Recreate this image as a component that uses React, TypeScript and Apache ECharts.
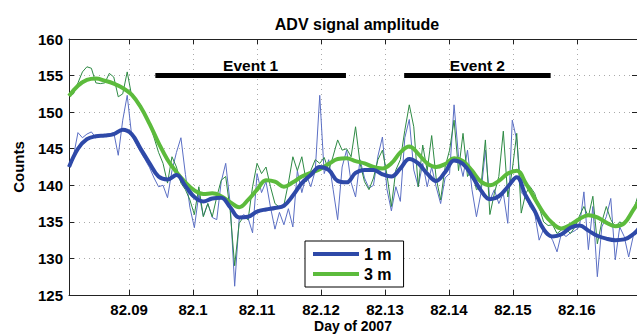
import React, { useEffect, useRef } from "react";
import * as echarts from "echarts";

// x sampling (day of 2007)
const rawStart = 82.0806;
const rawStep = 0.0007;
const smoothStart = 82.0806;
const smoothStep = 0.0014;

const xTicks = [82.09, 82.1, 82.11, 82.12, 82.13, 82.14, 82.15, 82.16];
const xLabels = ["82.09", "82.1", "82.11", "82.12", "82.13", "82.14", "82.15", "82.16"];

// raw ADV amplitude, 1 m
const raw1m = [
  142.5, 144.0, 147.2, 146.5, 147.0, 147.3, 146.5, 146.8, 146.9, 147.0,
  147.2, 144.1, 148.9, 152.3, 146.8, 145.6, 144.5, 143.5, 142.4, 141.0,
  139.8, 140.0, 138.3, 142.0, 144.5, 146.5, 141.5, 137.0, 134.2, 138.8,
  135.8, 137.5, 135.6, 135.3, 140.5, 143.0, 137.5, 126.2, 135.3, 136.0,
  135.5, 133.5, 141.6, 139.0, 140.5, 137.0, 134.0, 136.3, 134.6, 136.8,
  134.3, 142.0, 139.0, 141.4, 139.8, 142.0, 152.3, 141.6, 143.5, 139.4,
  135.3, 142.5, 144.8, 140.4, 138.4, 143.5, 141.0, 139.6, 140.0, 144.0,
  146.6, 139.5, 136.5, 139.8, 137.8, 146.5, 149.0, 142.1, 139.8, 143.0,
  139.8, 142.5, 139.8, 137.5, 141.0, 141.6, 151.0, 143.9, 141.2, 144.8,
  139.4, 135.7, 138.9, 144.8, 138.0, 139.4, 137.5, 138.9, 134.8, 148.9,
  146.2, 139.0, 138.4, 137.0, 136.2, 132.5, 134.0, 133.4, 132.5, 130.9,
  133.5, 133.0, 133.5, 133.8, 134.3, 139.1, 131.2, 137.1, 127.5, 134.3,
  135.7, 138.2, 129.8, 134.3, 133.0, 130.2, 133.0, 134.3,
];

// raw ADV amplitude, 3 m
const raw3m = [
  152.3, 152.5, 154.0, 155.5, 156.2, 156.0, 154.0, 153.9, 154.0, 155.3,
  154.8, 152.1, 152.5, 155.5, 152.2, 151.8, 151.0, 149.5, 148.5, 146.5,
  144.5, 143.0, 140.3, 143.9, 142.5, 140.3, 139.4, 138.0, 136.0, 139.8,
  135.7, 137.5, 135.7, 138.4, 140.7, 141.2, 136.5, 129.0, 134.8, 135.7,
  135.3, 139.8, 143.0, 141.6, 142.5, 139.8, 137.5, 137.0, 137.3, 140.3,
  143.9, 142.0, 143.9, 140.5, 142.0, 143.5, 143.0, 143.8, 142.0, 144.0,
  146.2, 144.8, 145.0, 143.9, 148.0, 143.0, 140.5, 139.4, 141.0, 143.5,
  144.8, 141.5, 137.1, 142.1, 143.5, 147.5, 151.0, 148.0, 139.8, 145.5,
  142.0, 146.8, 141.0, 138.0, 142.5, 144.8, 148.9, 142.0, 147.1, 141.2,
  142.1, 139.4, 139.8, 146.2, 136.0, 138.9, 141.2, 147.4, 138.4, 142.1,
  147.1, 136.2, 138.9, 139.8, 138.9, 137.0, 135.0, 134.5, 134.6, 133.4,
  133.9, 134.0, 133.4, 134.3, 135.8, 137.1, 135.7, 138.5, 132.0, 135.0,
  137.1, 135.3, 134.3, 135.0, 134.6, 135.5, 136.5, 138.4,
];

// smoothed, 1 m
const smooth1m = [
  142.5, 145.0, 146.3, 146.7, 146.8, 147.0, 147.6, 147.0, 145.0, 143.0,
  141.2, 140.8, 141.4, 139.9, 138.4, 137.8, 138.2, 138.3, 137.0, 135.6,
  135.7, 136.4, 136.7, 136.9, 137.2, 138.6, 140.3, 141.4, 142.5, 142.1,
  140.6, 140.4, 141.7, 142.1, 142.1, 141.5, 141.2, 142.3, 143.6, 143.0,
  141.6, 140.6, 141.8, 143.4, 142.9, 141.3, 139.3, 138.1, 138.5, 139.8,
  141.1, 138.6, 136.5, 134.0, 133.0, 133.3, 134.2, 134.5, 133.8, 133.1,
  132.7, 132.5, 132.6, 133.3, 134.5,
];

// smoothed, 3 m
const smooth3m = [
  152.2, 153.6, 154.4, 154.6, 154.3, 153.9, 153.3, 152.4, 150.7, 148.4,
  145.8, 143.5, 141.8, 140.4, 139.3, 138.8, 138.9, 138.5, 137.7, 137.0,
  138.0, 139.4, 140.7, 140.5, 139.8, 140.4, 141.2, 141.7, 142.2, 142.9,
  143.6, 143.7, 143.3, 143.0, 142.5, 142.3, 143.0, 144.5, 145.3, 144.3,
  143.0, 142.5, 142.9, 143.7, 143.3, 142.0, 140.5, 140.0, 140.6, 141.6,
  142.0, 140.3, 138.2, 136.2, 134.8, 134.1, 134.6, 135.4, 135.9, 135.6,
  134.9, 134.4, 134.8, 136.6, 138.5,
];

// events
const eventNames = ["Event 1", "Event 2"];
const eventStart = [82.0941, 82.133];
const eventEnd = [82.1239, 82.1559];
const eventLevel = 155;
const eventLabelLevel = 156.4;

const FONT = "Liberation Sans";

export default function App() {
  const ref = useRef<HTMLDivElement>(null);

  useEffect(() => {
    if (!ref.current) return;
    const chart = echarts.init(ref.current, null, { renderer: "svg" });

    const rawData = (arr: number[]) => arr.map((v, i) => [rawStart + i * rawStep, v]);
    const smoothData = (arr: number[]) => arr.map((v, i) => [smoothStart + i * smoothStep, v]);

    const labelStyle = { fontFamily: FONT, fontWeight: "bold" as const, fontSize: 15, color: "#000" };

    const eventSeries: any[] = [];
    eventNames.forEach((name, k) => {
      eventSeries.push({
        type: "line",
        name: "ev" + k,
        data: [[eventStart[k], eventLevel], [eventEnd[k], eventLevel]],
        symbol: "none",
        lineStyle: { color: "#000", width: 5, cap: "butt" },
        z: 5,
        silent: true,
      });
      eventSeries.push({
        type: "scatter",
        name: "evl" + k,
        data: [[(eventStart[k] + eventEnd[k]) / 2, eventLabelLevel]],
        symbolSize: 1,
        itemStyle: { color: "rgba(255,255,255,0)", opacity: 1 },
        label: {
          show: true,
          position: "inside",
          formatter: name,
          ...labelStyle,
          fontSize: 15.5,
          opacity: 1,
          textBorderWidth: 0,
          textBorderColor: "transparent",
        },
        z: 7,
        silent: true,
      });
    });

    chart.setOption({
      animation: false,
      backgroundColor: "#fff",
      title: {
        text: "ADV signal amplitude",
        left: 352,
        textAlign: "center",
        top: 11,
        textStyle: { fontFamily: FONT, fontWeight: "bold", fontSize: 16, color: "#000" },
      },
      legend: {
        data: ["1 m", "3 m"],
        orient: "vertical",
        left: 305,
        top: 241,
        padding: [5, 12, 5, 8],
        itemWidth: 46,
        itemHeight: 4,
        itemGap: 4,
        icon: "rect",
        borderColor: "#000",
        borderWidth: 1,
        backgroundColor: "#fff",
        textStyle: { fontFamily: FONT, fontWeight: "bold", fontSize: 16, color: "#000" },
      },
      grid: { left: 69, right: 0, top: 39, bottom: 40, outerBoundsMode: "none", containLabel: false },
      xAxis: [
        {
          type: "value",
          min: 82.0806,
          max: 82.1694,
          name: "Day of 2007",
          nameLocation: "middle",
          nameGap: 24,
          nameMoveOverlap: false,
          nameTextStyle: { ...labelStyle, fontSize: 14, lineHeight: 14 },
          axisLine: { lineStyle: { color: "#222", width: 1 } },
          axisTick: { inside: true, length: 5, customValues: xTicks, lineStyle: { color: "#222" } },
          axisLabel: {
            customValues: xTicks,
            margin: 7,
            lineHeight: 15,
            formatter: (v: number) => {
              const idx = xTicks.findIndex((t) => Math.abs(t - v) < 1e-6);
              return idx >= 0 ? xLabels[idx] : "";
            },
            ...labelStyle,
          },
          splitLine: { show: true, lineStyle: { color: "#aaa", type: [1, 4], width: 1 } },
        },
        {
          type: "value",
          position: "top",
          min: 82.0806,
          max: 82.1694,
          axisLine: { show: true, lineStyle: { color: "#222", width: 1 } },
          axisTick: { inside: true, length: 5, customValues: xTicks, lineStyle: { color: "#222" } },
          axisLabel: { show: false },
          splitLine: { show: false },
        },
      ],
      yAxis: [
        {
          type: "value",
          min: 125,
          max: 160,
          interval: 5,
          name: "Counts",
          nameLocation: "middle",
          nameGap: 43,
          nameMoveOverlap: false,
          nameTextStyle: { ...labelStyle },
          axisLine: { show: true, lineStyle: { color: "#222", width: 1 } },
          axisTick: { show: true, inside: true, length: 5, lineStyle: { color: "#222" } },
          axisLabel: { margin: 6, ...labelStyle },
          splitLine: { show: true, lineStyle: { color: "#aaa", type: [1, 4], width: 1 } },
        },
        {
          type: "value",
          position: "right",
          min: 125,
          max: 160,
          interval: 5,
          axisLine: { show: true, lineStyle: { color: "#222", width: 1 } },
          axisTick: { show: true, inside: true, length: 5, lineStyle: { color: "#222" } },
          axisLabel: { show: false },
          splitLine: { show: false },
        },
      ],
      series: [
        {
          type: "line",
          name: "raw 1 m",
          data: rawData(raw1m),
          symbol: "none",
          lineStyle: { color: "#5b6fc4", width: 1 },
          z: 2,
          silent: true,
        },
        {
          type: "line",
          name: "raw 3 m",
          data: rawData(raw3m),
          symbol: "none",
          lineStyle: { color: "#2e8a44", width: 1 },
          z: 2,
          silent: true,
        },
        {
          type: "line",
          name: "3 m",
          data: smoothData(smooth3m),
          symbol: "none",
          smooth: 0.4,
          color: "#5cbb3c",
          lineStyle: { color: "#5cbb3c", width: 4 },
          z: 3,
        },
        {
          type: "line",
          name: "1 m",
          data: smoothData(smooth1m),
          symbol: "none",
          smooth: 0.4,
          color: "#2e49a8",
          lineStyle: { color: "#2e49a8", width: 4 },
          z: 4,
        },
        ...eventSeries,
      ],
    });

    return () => chart.dispose();
  }, []);

  return (
    <div
      ref={ref}
      style={{ position: "fixed", left: 0, top: 0, width: 637, height: 335 }}
    />
  );
}
